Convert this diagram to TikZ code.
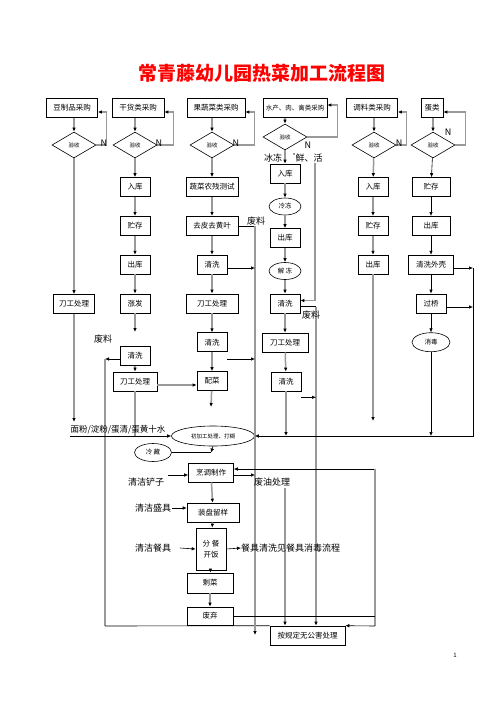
\documentclass[tikz,border=0pt]{standalone}
\usepackage{fontspec}
\setmainfont{Noto Sans CJK SC}
\usetikzlibrary{arrows.meta,shapes.geometric}

\begin{document}
\begin{tikzpicture}[x=1pt,
            y=-1pt,
            >={Latex[length=4pt,width=3.5pt,color=black]},
            node distance=38.8pt,
            box/.style={draw,line width=0.6pt,minimum width=30pt,minimum height=19pt,inner sep=1pt,font=\fontsize{7.5}{8}\selectfont},
            check/.style={draw,diamond,line width=0.6pt,minimum width=44pt,minimum height=26pt,inner sep=0pt,font=\fontsize{5.5}{6}\selectfont},
            blob/.style={draw,ellipse,line width=0.6pt,minimum width=32pt,minimum height=17pt,inner sep=0pt,font=\fontsize{6.5}{7}\selectfont},
            note/.style={inner sep=0pt,font=\fontsize{9}{9}\selectfont},
            gline/.style={draw=black!40,line width=1.5pt},
            bline/.style={draw=black,line width=0.6pt}]

        \fill[white] (0,0) rectangle (496,702);
        \node[text=red,font=\bfseries\fontsize{19}{19}\selectfont] (title) at (262,73) {常青藤幼儿园热菜加工流程图};

        % purchase row
        \node[box,minimum width=51pt] (buy1) at (72,108)  {豆制品采购};
        \node[box,minimum width=52pt] (buy2) at (138,108) {干货类采购};
        \node[box,minimum width=58pt] (buy3) at (216,108) {果蔬菜类采购};
        \node[box,minimum width=64pt,font=\fontsize{6.5}{7}\selectfont] (buy4) at (295,108) {水产、肉、禽类采购};
        \node[box,minimum width=51pt] (buy5) at (372,108) {调料类采购};
        \node[box,minimum width=22pt] (buy6) at (432,108) {蛋类};

        \node[check] (chk1) at (74,145)  {验收};
        \node[check] (chk2) at (135,145) {验收};
        \node[check] (chk3) at (212,145) {验收};
        \node[check] (chk4) at (285,137) {验收};
        \node[check] (chk5) at (374,145) {验收};
        \node[check] (chk6) at (433,145) {验收};

        % columns
        \node[box,minimum width=41pt] (cut1) at (74,304) {刀工处理};

        \node[box] (in2)   at (135,187)    {入库};
        \node[box] (st2)   [below of=in2]  {贮存};
        \node[box] (out2)  [below of=st2]  {出库};
        \node[box] (soak2) [below of=out2] {涨发};
        \node[box] (wash2) at (135,356)    {清洗};
        \node[box,minimum width=44pt] (cut2) at (135,381.5) {刀工处理};

        \node[box,minimum width=52pt] (test3) at (212,187)      {蔬菜农残测试};
        \node[box,minimum width=52pt] (peel3) [below of=test3]  {去皮去黄叶};
        \node[box]                    (wash3) [below of=peel3]  {清洗};
        \node[box,minimum width=52pt] (cut3)  [below of=wash3]  {刀工处理};
        \node[box]                    (rinse3) [below of=cut3]  {清洗};
        \node[box]                    (mix3)  [below of=rinse3] {配菜};

        \node[box]  (in4)    at (285,173.5) {入库};
        \node[blob] (frz4)   at (285,206.5) {冷冻};
        \node[box]  (out4)   at (285,238)   {出库};
        \node[blob] (thaw4)  at (285,271)   {解\ 冻};
        \node[box]  (wash4)  at (285,303.5) {清洗};
        \node[box,minimum width=46pt] (cut4) at (285,342.5) {刀工处理};
        \node[box]  (rinse4) at (286,381.5) {清洗};

        \node[box] (in5)  at (373,187)   {入库};
        \node[box] (st5)  [below of=in5] {贮存};
        \node[box] (out5) [below of=st5] {出库};

        \node[box,minimum width=38pt] (st6)    at (431,187)       {贮存};
        \node[box,minimum width=38pt] (out6)   [below of=st6]     {出库};
        \node[box,minimum width=45pt] (shell6) [below of=out6]    {清洗外壳};
        \node[box]                    (br6)    [below of=shell6]  {过桥};
        \node[blob,minimum width=38pt,minimum height=19pt] (dis6) [below of=br6] {消毒};

        % lower part
        \node[blob,minimum width=83pt,minimum height=20pt,font=\fontsize{5.5}{6}\selectfont] (batter) at (213,436) {初加工处理、打糊};
        \node[blob,minimum width=37pt,minimum height=18pt] (chill) at (153,452.5) {冷\ 藏};
        \node[box,minimum width=45pt] (cook)    at (211,472.5) {烹调制作};
        \node[box,minimum width=52pt] (plate)   at (213,512.5) {装盘留样};
        \node[box,minimum height=42pt,align=center] (serve) at (211,549) {分\ 餐\\[3pt]开饭};
        \node[box,minimum width=46pt,minimum height=20pt] (rest)    at (210,583) {剩菜};
        \node[box,minimum width=46pt,minimum height=18pt] (discard) at (210,616) {废弃};
        \node[box,minimum width=75pt] (treat) at (307.5,635.5) {按规定无公害处理};

        % free ends and corners
        \coordinate (soakend) at (135,332);
        \coordinate (c1end)   at (74,422);
        \coordinate (c5end)   at (373,421);
        \coordinate (mixend)  at (211,407);
        \coordinate (busL)    at (70,436);
        \coordinate (busR)    at (473,268);
        \coordinate (bin2)    at (105,359);
        \coordinate (bin2b)   at (105,626);
        \coordinate (bin3b)   at (255,635);
        \coordinate (bin4)    at (316,306.5);
        \coordinate (freshA)  at (293,154);
        \coordinate (freshB)  at (315,154);
        \coordinate (oilA)    at (255,475);
        \coordinate (oilB)    at (285,488);
        \coordinate (back)    at (375,469);
        \coordinate (backB)   at (375,626);
        \coordinate (toolA)   at (168,475);
        \coordinate (wareA)   at (172,508);
        \coordinate (dishA)   at (180,548);
        \coordinate (chillC)  at (211,452.5);

        % purchase -> check, and N loops
        \draw[gline,->] (chk1 |- buy1.south) -- (chk1.north);
        \draw[gline,->] (chk2 |- buy2.south) -- (chk2.north);
        \draw[gline,->] (chk3 |- buy3.south) -- (chk3.north);
        \draw[gline,->] (chk4 |- buy4.south) -- (chk4.north);
        \draw[gline,->] (chk5 |- buy5.south) -- (chk5.north);
        \draw[gline,->] (chk6 |- buy6.south) -- (chk6.north);

        \draw[gline,->] (chk1.east) -- ++(10,0) |- ([yshift=-4pt]buy1.east);
        \draw[gline,->] (chk2.east) -- ++(16,0) |- ([yshift=-4pt]buy2.east);
        \draw[gline,->] (chk3.east) -- ++(20,0) |- ([yshift=-4pt]buy3.east);
        \draw[gline,->] (chk4.east) -- ++(30,0) |- ([yshift=3pt]buy4.east);
        \draw[gline,->] (chk5.east) -- ++(10,0) |- ([yshift=-4pt]buy5.east);
        \draw[gline,->] (chk6.east) -- ++(10,0) |- ([yshift=-4pt]buy6.east);

        \path[gline,->] (chk1) edge (cut1)
                        (cut1) edge (c1end)
                        (chk2) edge (in2)
                        (in2)  edge (st2)
                        (st2)  edge (out2)
                        (out2) edge (soak2)
                        (soak2) edge (soakend)
                        (wash2) edge (cut2)
                        (chk3)  edge (test3)
                        (test3) edge (peel3)
                        (peel3) edge (wash3)
                        (wash3) edge (cut3)
                        (cut3)  edge (rinse3)
                        (rinse3) edge (mix3)
                        (mix3)  edge (mixend)
                        (chk4)  edge (in4)
                        (in4)   edge (frz4)
                        (frz4)  edge (out4)
                        (out4)  edge (thaw4)
                        (thaw4) edge (wash4)
                        (wash4) edge (cut4)
                        (cut4)  edge (rinse4)
                        (rinse4) edge (rinse4 |- busL)
                        (chk5)  edge (in5)
                        (in5)   edge (st5)
                        (st5)   edge (out5)
                        (out5)  edge (c5end);
        \path[bline,->] (chk6)   edge (st6)
                        (st6)    edge (out6)
                        (out6)   edge (shell6)
                        (shell6) edge (br6)
                        (br6)    edge (dis6)
                        (dis6)   edge (dis6 |- busL);

        \draw[gline] (cut2) -- (cut2 |- busL);
        \draw[gline,->] ([yshift=-3.5pt]cut2.east) -- ([yshift=-3.5pt]cut2.east -| mix3.west);

        % waste lines
        \draw[bline,->] ([yshift=-3pt]wash2.west) -- (bin2);
        \draw[gline] (bin2) -- (bin2b);
        \draw[bline] (bin2b) -- (treat.north west);

        \draw[bline] (peel3.east) -- (peel3.east -| bin3b);
        \draw[gline,->] (peel3.east -| bin3b) -- (bin3b);
        \draw[bline,->] ([yshift=-3.4pt]wash3.east) -- ([yshift=-3.4pt]wash3.east -| bin3b);
        \draw[bline,->] ([yshift=-7pt]rinse3.south east) -- ([yshift=-7pt]rinse3.south east -| bin3b);

        \draw[gline,->] (freshA) -- (freshB) |- ([yshift=3pt]wash4.east);
        \draw[bline] ([yshift=-3pt]wash4.east) -- (bin4);
        \draw[gline,->] (bin4) -- (bin4 |- treat.north);
        \draw[bline,->] ([yshift=-6pt]rinse4.south east) -- ([yshift=-6pt]rinse4.south east -| bin4);

        \draw[bline,->] ([yshift=-3.4pt]shell6.east) -- (busR);
        \draw[bline,->] ([yshift=-3.6pt]br6.east) -- ([yshift=-3.6pt]br6.east -| busR);
        \draw[bline,->] (busR) |- (batter.east);
        \draw[bline,->] (busL) -- (batter.west);

        % cooking
        \draw[bline,->] (batter.south) -- (chillC);
        \draw[bline] (chill.east) -- (chillC);
        \path[gline,->] (cook)  edge (plate)
                        (plate) edge (serve)
                        (serve) edge (rest)
                        (rest)  edge (discard);
        \draw[bline,->] (toolA) -- (toolA -| cook.west);
        \draw[bline,->] (wareA) -- (wareA -| plate.west);
        \draw[bline,->] (dishA) -- (serve.west);
        \draw[bline,->] (toolA -| cook.east) -- (oilA);
        \draw[gline,->] (oilB) -- (oilB |- treat.north);
        \draw[bline,->] (back) -- (back -| cook.east);
        \draw[gline] (back) -- (backB);
        \draw[bline,->] (backB) -- (treat.north east);
        \draw[bline] (discard.east) -- (discard.east -| back);

        % labels
        \node[note] (n1) at (104,143) {N};
        \node[note] (n2) at (159,143) {N};
        \node[note] (n3) at (236,143) {N};
        \node[note] (n4) at (308,145) {N};
        \node[note] (n5) at (399,143) {N};
        \node[note] (n6) at (448,132) {N};
        \node[note] (frozen) at (273,158) {冰冻};
        \node[note,fill=white,inner sep=0.5pt] (fresh) at (309,158) {鲜、活};
        \node[note] (waste3) at (256,221) {废料};
        \node[note] (waste4) at (311,315) {废料};
        \node[note] (waste2) at (103,339) {废料};
        \node[note,font=\fontsize{8.5}{9}\selectfont] (flour) at (118,430) {面粉/淀粉/蛋清/蛋黄十水};
        \node[note] (tool)  at (146,482) {清洁铲子};
        \node[note] (ware)  at (153,508) {清洁盛具};
        \node[note] (dish)  at (153,548) {清洁餐具};
        \node[note] (oil)   at (272,482) {废油处理};
        \node[note,anchor=west] (rinse) at (241,548) {餐具清洗见餐具消毒流程};
        \draw[bline,->] (serve.east) -- (rinse.west);
        \node[font=\fontsize{6}{6}\selectfont] (page) at (455,655) {1};

\end{tikzpicture}
\end{document}
